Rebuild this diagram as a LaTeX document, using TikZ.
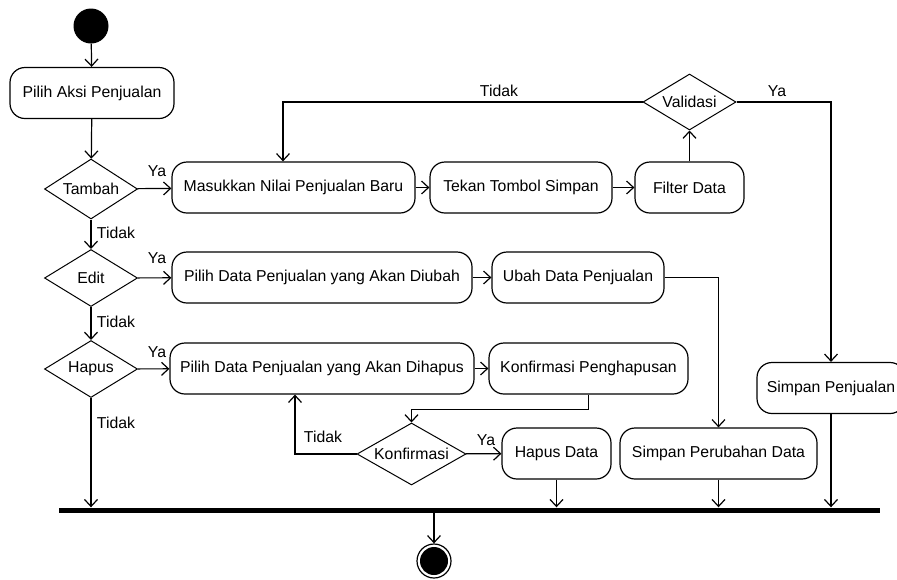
\documentclass[tikz,border=0pt]{standalone}
\usepackage{fontspec}
\setmainfont{Liberation Sans}
\usetikzlibrary{arrows.meta,shapes.geometric}

\begin{document}
\begin{tikzpicture}[x=1pt,y=-1pt,
  every node/.style={font=\fontsize{15.8}{18}\selectfont},
  action/.style={draw, line width=1.2pt, rounded corners=15pt, minimum height=51pt, inner sep=0pt},
  decision/.style={draw, diamond, line width=1pt, shape aspect=1.75, inner sep=0pt},
  flow/.style={line width=1.2pt, -{Straight Barb[length=7pt,width=13pt,line width=1.2pt]}},
  plain/.style={line width=1.2pt},
  lbl/.style={inner sep=0pt}
]
\useasboundingbox (0,0) rectangle (897,579);

% initial and final states
\node[circle, fill, minimum size=35pt, inner sep=0pt] (start) at (91,26) {};
\node[circle, draw, line width=1.2pt, minimum size=34pt, inner sep=0pt] (stop) at (434,561) {};
\fill (stop.center) circle (14);

% synchronisation bar
\node[fill, minimum width=821pt, minimum height=5pt, inner sep=0pt] (bar) at (469,510) {};

% actions
\node[action, minimum width=164pt] (pilih) at (92,93) {Pilih Aksi Penjualan};
\node[action, minimum width=243pt] (masuk) at (293.5,187.5) {Masukkan Nilai Penjualan Baru};
\node[action, minimum width=182pt] (tekan) at (521,187.5) {Tekan Tombol Simpan};
\node[action, minimum width=109pt] (filter) at (689.5,187.5) {Filter Data};
\node[action, minimum width=148pt] (simpanpj) at (831,388) {Simpan Penjualan};
\node[action, minimum width=300pt] (diubah) at (322,277.5) {Pilih Data Penjualan yang Akan Diubah};
\node[action, minimum width=172pt] (ubah) at (578,277.5) {Ubah Data Penjualan};
\node[action, minimum width=304pt] (dihapus) at (322,368.5) {Pilih Data Penjualan yang Akan Dihapus};
\node[action, minimum width=199pt] (konfpeng) at (588.5,368.5) {Konfirmasi Penghapusan};
\node[action, minimum width=109pt] (hapusdata) at (556.5,453.5) {Hapus Data};
\node[action, minimum width=197pt] (perubahan) at (718.5,453.5) {Simpan Perubahan Data};

% decisions
\node[decision, minimum width=93pt, minimum height=60pt] (tambah) at (91,189) {Tambah};
\node[decision, minimum width=93pt, minimum height=57pt] (edit) at (91,278) {Edit};
\node[decision, minimum width=93pt, minimum height=57pt] (hapus) at (91,369) {Hapus};
\node[decision, minimum width=93pt, minimum height=56pt] (val) at (689.5,102) {Validasi};
\node[decision, minimum width=109pt, minimum height=62pt] (konf) at (411.5,454) {Konfirmasi};

% bend points
\coordinate (loopx) at (283,102);
\coordinate (backx) at (295,454);

% guard labels
\node[lbl] (ya1) at (157,171) {Ya};
\node[lbl] (ya2) at (157,258) {Ya};
\node[lbl] (ya3) at (157,352) {Ya};
\node[lbl] (td1) at (116,233) {Tidak};
\node[lbl] (td2) at (116,322) {Tidak};
\node[lbl] (td3) at (116,423) {Tidak};
\node[lbl] (td4) at (499,91) {Tidak};
\node[lbl] (ya4) at (777,91) {Ya};
\node[lbl] (td5) at (323,437) {Tidak};
\node[lbl] (ya5) at (486,440) {Ya};

% flows
\draw[flow] (start) -- (pilih);
\draw[flow] (pilih) -- (tambah);
\draw[flow] (tambah) -- (masuk);
\draw[flow] (masuk) -- (tekan);
\draw[flow] (tekan) -- (filter);
\draw[flow] (filter) -- (val);
\draw[flow] (val.west) -- (loopx) -- (loopx |- masuk.north);
\draw[flow] (val.east) -| (simpanpj.north);
\draw[flow] (tambah) -- (edit);
\draw[flow] (edit) -- (diubah);
\draw[flow] (diubah) -- (ubah);
\draw[flow] (ubah.east) -| (perubahan.north);
\draw[flow] (edit) -- (hapus);
\draw[flow] (hapus) -- (dihapus);
\draw[flow] (dihapus) -- (konfpeng);
\draw[flow] (konfpeng.south) -- ++(0,15) -| (konf.north);
\draw[flow] (konf.west) -- (backx) -- (backx |- dihapus.south);
\draw[flow] (konf) -- (hapusdata);
\draw[flow] (hapus.south) -- (hapus.south |- bar.north);
\draw[flow] (hapusdata.south) -- (hapusdata.south |- bar.north);
\draw[flow] (perubahan.south) -- (perubahan.south |- bar.north);
\draw[flow] (simpanpj.south) -- (simpanpj.south |- bar.north);
\draw[flow] (stop.north |- bar.south) -- (stop.north);
\end{tikzpicture}
\end{document}
